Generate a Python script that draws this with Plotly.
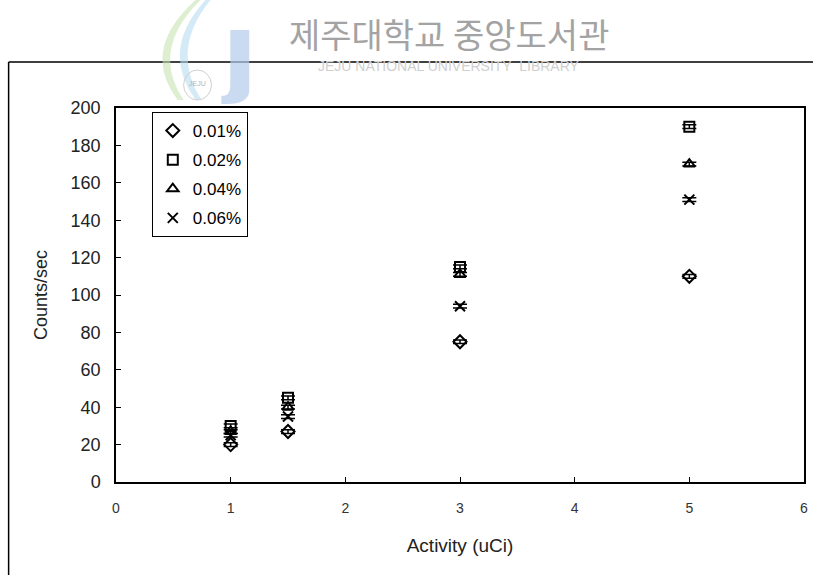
import plotly.graph_objects as go

# Measured count rate versus source activity for four concentrations
activity = [1, 1.5, 3, 5]
series_names = ["0.01%", "0.02%", "0.04%", "0.06%"]
counts_001 = [20, 27, 75, 110]
counts_002 = [30, 45, 115, 190]
counts_004 = [27, 40, 111, 170]
counts_006 = [25, 35, 94, 151]
count_err = [1, 1, 1, 1]

x_ticks = [0, 1, 2, 3, 4, 5, 6]
y_ticks = [0, 20, 40, 60, 80, 100, 120, 140, 160, 180, 200]

series_values = [counts_001, counts_002, counts_004, counts_006]
symbols = ["diamond-open", "square-open", "triangle-up-open", "x-thin-open"]

W, H = 813, 575
L, R, T, B = 116, 5, 108, 93
PW, PH = W - L - R, H - T - B


def fx(px):
    return (px - L) / PW


def fy(py):
    return (H - B - py) / PH


fig = go.Figure()
for name, vals, sym in zip(series_names, series_values, symbols):
    fig.add_trace(go.Scatter(
        x=activity, y=vals, name=name, mode="markers", legendgroup=name,
        marker=dict(symbol=sym, size=10, color="black",
                    line=dict(color="black", width=2)),
        error_y=dict(type="data", array=count_err, visible=True,
                     color="black", thickness=1.5, width=7),
    ))

# outer frame
fig.add_shape(type="line", xref="paper", yref="paper",
              x0=fx(8), x1=fx(W + 5), y0=fy(62), y1=fy(62),
              line=dict(color="black", width=1.5))
fig.add_shape(type="line", xref="paper", yref="paper",
              x0=fx(8), x1=fx(8), y0=fy(62), y1=fy(H + 5),
              line=dict(color="black", width=1.5))

# library emblem
fig.add_shape(type="path", xref="paper", yref="paper",
              path=(f"M {fx(196)},{fy(0)} Q {fx(140)},{fy(50)} {fx(178)},{fy(100)}"
                    f" L {fx(184)},{fy(100)} Q {fx(150)},{fy(50)} {fx(201)},{fy(0)} Z"),
              fillcolor="#c6e4b0", line=dict(width=0), opacity=0.6)
fig.add_shape(type="path", xref="paper", yref="paper",
              path=(f"M {fx(206)},{fy(0)} Q {fx(160)},{fy(50)} {fx(196)},{fy(100)}"
                    f" L {fx(202)},{fy(100)} Q {fx(170)},{fy(50)} {fx(211)},{fy(0)} Z"),
              fillcolor="#b7dcf0", line=dict(width=0), opacity=0.6)
fig.add_shape(type="path", xref="paper", yref="paper",
              path=(f"M {fx(231)},{fy(30)} L {fx(250)},{fy(30)} L {fx(250)},{fy(92)}"
                    f" Q {fx(248)},{fy(104)} {fx(228)},{fy(104)} L {fx(222)},{fy(104)}"
                    f" L {fx(222)},{fy(96)} Q {fx(231)},{fy(96)} {fx(231)},{fy(86)} Z"),
              fillcolor="#b3cbea", line=dict(width=0), opacity=0.7)
fig.add_shape(type="circle", xref="paper", yref="paper",
              x0=fx(184), x1=fx(212), y0=fy(70), y1=fy(100),
              line=dict(color="#d0d0d0", width=1), fillcolor="rgba(255,255,255,0)")
fig.add_annotation(x=fx(198), y=fy(84), xref="paper", yref="paper",
                   xanchor="center", yanchor="middle",
                   text="JEJU", showarrow=False,
                   font=dict(family="Liberation Sans", size=7, color="#b5b5b5"))

# library name
fig.add_annotation(x=fx(451), y=fy(33), xref="paper", yref="paper",
                   xanchor="center", yanchor="middle",
                   text="제주대학교 중앙도서관", showarrow=False,
                   font=dict(family="Noto Sans CJK KR", size=34, color="#a3a3a3"))
fig.add_annotation(x=fx(451), y=fy(66), xref="paper", yref="paper",
                   xanchor="center", yanchor="middle",
                   text="JEJU NATIONAL UNIVERSITY  LIBRARY", showarrow=False,
                   font=dict(family="Liberation Sans", size=14, color="#cfcfcf"))

fig.update_layout(
    width=W, height=H,
    margin=dict(l=L, r=R, t=T, b=B),
    paper_bgcolor="white", plot_bgcolor="white",
    font=dict(family="Liberation Sans", color="black"),
    showlegend=True,
    legend=dict(x=fx(152), y=fy(112), xanchor="left", yanchor="top",
                bgcolor="white", bordercolor="black", borderwidth=1,
                font=dict(size=17, color="black"), itemwidth=30,
                tracegroupgap=4),
    xaxis=dict(range=[0, 6], tickvals=x_ticks, ticktext=[str(v) for v in x_ticks],
               ticks="inside", ticklen=5, tickcolor="black",
               showline=True, linecolor="black", linewidth=1.5, mirror=True,
               showgrid=False, zeroline=False, ticklabelstandoff=12,
               tickfont=dict(family="Liberation Sans", size=14, color="#333"),
               title=dict(text="Activity (uCi)", standoff=24,
                          font=dict(family="Liberation Sans", size=19, color="#222"))),
    yaxis=dict(range=[0, 200], tickvals=y_ticks,
               ticks="inside", ticklen=5, tickcolor="black",
               showline=True, linecolor="black", linewidth=1.5, mirror=True,
               showgrid=False, zeroline=False, ticklabelstandoff=10,
               tickfont=dict(size=18, color="#222"),
               title=dict(text="Counts/sec", standoff=18,
                          font=dict(size=18, color="#222"))),
)

fig.write_html("out.html")
